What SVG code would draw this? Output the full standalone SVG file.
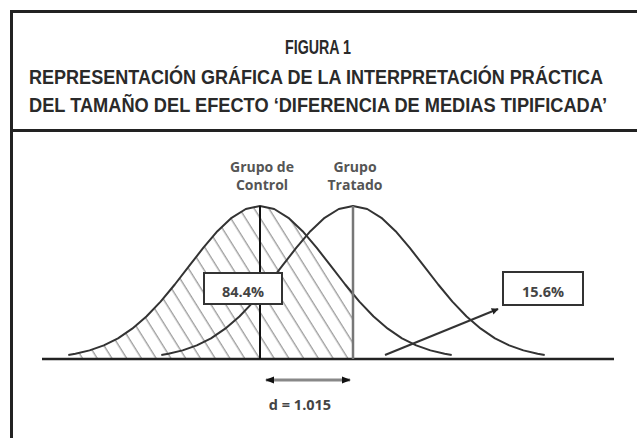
<svg xmlns="http://www.w3.org/2000/svg" width="637" height="438" viewBox="0 0 637 438">
<style>
.frame{stroke:#222;stroke-width:3;fill:none}
.title{font-family:"Liberation Sans",Arial,sans-serif;font-weight:bold;font-size:21px;fill:#2a2a2a;text-anchor:middle}
.lbl{font-family:"Open Sans","Liberation Sans",sans-serif;font-weight:bold;font-size:14px;fill:#555;text-anchor:middle}
.pct{font-family:"Open Sans","Liberation Sans",sans-serif;font-weight:bold;font-size:14.5px;fill:#444;text-anchor:middle}
.curve{fill:none;stroke:#333;stroke-width:2;stroke-linejoin:round}
.box{fill:#fff;stroke:#333;stroke-width:2}
</style>
<defs>
<pattern id="hatch" width="12.5" height="20" patternUnits="userSpaceOnUse" patternTransform="rotate(-32)">
<line x1="5" y1="0" x2="5" y2="20" stroke="#777" stroke-width="1"/>
</pattern>
<clipPath id="ctrlClip">
<polygon points="68.3,359 68.3,355 75.4,353.8 89.6,350.4 103.8,345.4 118,338.3 132.2,328.7 146.4,316.5 160.6,301.6 174.8,284.5 189,266.2 203.2,247.9 217.4,231.2 231.6,217.8 245.8,209 260,206 274.2,209 288.4,217.8 302.6,231.2 316.8,247.9 331,266.2 345.2,284.5 353,294.1 353,359"/>
</clipPath>
<marker id="ah" viewBox="0 0 10 10" refX="9" refY="5" markerWidth="7" markerHeight="7" orient="auto-start-reverse" markerUnits="userSpaceOnUse">
<path d="M0,0 L10,5 L0,10 z" fill="#222"/>
</marker>
<marker id="ah2" viewBox="0 0 10 10" refX="9" refY="5" markerWidth="9" markerHeight="9" orient="auto-start-reverse" markerUnits="userSpaceOnUse">
<path d="M0,1 L10,5 L0,9 z" fill="#111"/>
</marker>
</defs>
<rect width="637" height="438" fill="#fff"/>
<g id="frame">
<path class="frame" d="M11.5,440 V11.5 H640"/>
<line class="frame" x1="11.5" y1="130.5" x2="640" y2="130.5"/>
</g>
<g id="title">
<text class="title" transform="translate(318,54) scale(0.8,1)" x="0" y="0" textLength="82.5" lengthAdjust="spacingAndGlyphs">FIGURA 1</text>
<text class="title" transform="translate(316,84) scale(0.8,1)" x="0" y="0" textLength="717.5" lengthAdjust="spacingAndGlyphs">REPRESENTACIÓN GRÁFICA DE LA INTERPRETACIÓN PRÁCTICA</text>
<text class="title" transform="translate(318,112) scale(0.8,1)" x="0" y="0" textLength="722.5" lengthAdjust="spacingAndGlyphs">DEL TAMAÑO DEL EFECTO ‘DIFERENCIA DE MEDIAS TIPIFICADA’</text>
</g>
<g id="hatching">
<rect x="60" y="200" width="300" height="165" fill="url(#hatch)" clip-path="url(#ctrlClip)"/>
</g>
<g id="baseline">
<line x1="42" y1="359" x2="614" y2="359" stroke="#222" stroke-width="2.5"/>
</g>
<g id="grupo-control">
<polyline class="curve" points="68.3,355 75.4,353.8 89.6,350.4 103.8,345.4 118,338.3 132.2,328.7 146.4,316.5 160.6,301.6 174.8,284.5 189,266.2 203.2,247.9 217.4,231.2 231.6,217.8 245.8,209 260,206 274.2,209 288.4,217.8 302.6,231.2 316.8,247.9 331,266.2 345.2,284.5 359.4,301.6 373.6,316.5 387.8,328.7 402,338.3 416.2,345.4 430.4,350.4 444.6,353.8 451.7,355"/>
<line x1="260" y1="206" x2="260" y2="359" stroke="#111" stroke-width="2"/>
<text class="lbl" x="262" y="172">Grupo de</text>
<text class="lbl" x="262" y="190">Control</text>
</g>
<g id="grupo-tratado">
<polyline class="curve" points="161.3,355 168.4,353.8 182.6,350.4 196.8,345.4 211,338.3 225.2,328.7 239.4,316.5 253.6,301.6 267.8,284.5 282,266.2 296.2,247.9 310.4,231.2 324.6,217.8 338.8,209 353,206 367.2,209 381.4,217.8 395.6,231.2 409.8,247.9 424,266.2 438.2,284.5 452.4,301.6 466.6,316.5 480.8,328.7 495,338.3 509.2,345.4 523.4,350.4 537.6,353.8 544.7,355"/>
<line x1="353" y1="206" x2="353" y2="359" stroke="#777" stroke-width="2.5"/>
<text class="lbl" x="355" y="172">Grupo</text>
<text class="lbl" x="355" y="190">Tratado</text>
</g>
<g id="connectors">
<line x1="385" y1="355" x2="498" y2="309" stroke="#333" stroke-width="2" marker-end="url(#ah)"/>
<line x1="266" y1="380" x2="350" y2="380" stroke="#888" stroke-width="3" marker-start="url(#ah2)" marker-end="url(#ah2)"/>
</g>
<g id="box-844">
<rect class="box" x="204" y="273" width="78" height="31"/>
<text class="pct" x="243" y="297">84.4%</text>
</g>
<g id="box-156">
<rect class="box" x="503" y="272" width="80" height="33"/>
<text class="pct" x="543" y="297">15.6%</text>
</g>
<g id="d-label">
<text class="pct" x="300" y="410">d = 1.015</text>
</g>
</svg>
